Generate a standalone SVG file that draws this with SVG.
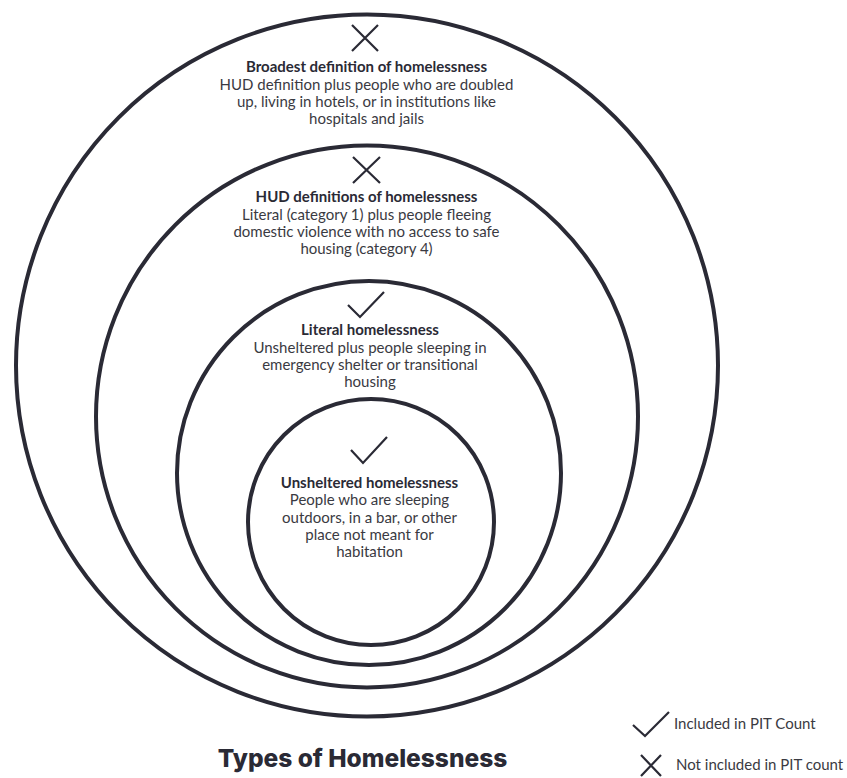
<svg xmlns="http://www.w3.org/2000/svg" width="847" height="778" viewBox="0 0 847 778">
<style>
.ring{fill:none;stroke:#2a2a35;stroke-width:4}
.ico{fill:none;stroke:#2a2a35;stroke-width:2.2;stroke-linecap:butt;stroke-linejoin:miter}
.h{font-family:Lato,"Liberation Sans",sans-serif;font-weight:700;font-size:15px;fill:#2a2a35;text-anchor:middle}
.b{font-family:Lato,"Liberation Sans",sans-serif;font-size:15px;fill:#3a3a42;text-anchor:middle}
.lg{font-family:Lato,"Liberation Sans",sans-serif;font-size:15px;fill:#3a3a42}
.t{font-family:Inter,"Liberation Sans",sans-serif;font-weight:800;font-size:24.5px;fill:#2a2a35;text-anchor:middle}
</style>
<rect width="847" height="778" fill="#ffffff"/>
<g id="broadest">
<circle class="ring" cx="367" cy="365.5" r="351"/>
<path class="ico" d="M352 25 L378 51 M378 25 L352 51"/>
<text class="h" x="366.5" y="72">Broadest definition of homelessness</text>
<text class="b" x="366.5" y="90">HUD definition plus people who are doubled</text>
<text class="b" x="366.5" y="107">up, living in hotels, or in institutions like</text>
<text class="b" x="366.5" y="124">hospitals and jails</text>
</g>
<g id="hud">
<circle class="ring" cx="367" cy="416.5" r="271"/>
<path class="ico" d="M353 157 L380 183 M380 157 L353 183"/>
<text class="h" x="366.5" y="202">HUD definitions of homelessness</text>
<text class="b" x="366.5" y="219.5">Literal (category 1) plus people fleeing</text>
<text class="b" x="366.5" y="236.5">domestic violence with no access to safe</text>
<text class="b" x="366.5" y="253.5">housing (category 4)</text>
</g>
<g id="literal">
<circle class="ring" cx="369" cy="473" r="192"/>
<path class="ico" d="M348 305 L360 317 L384 292"/>
<text class="h" x="370" y="335">Literal homelessness</text>
<text class="b" x="370" y="352.5">Unsheltered plus people sleeping in</text>
<text class="b" x="370" y="369.5">emergency shelter or transitional</text>
<text class="b" x="370" y="387">housing</text>
</g>
<g id="unsheltered">
<circle class="ring" cx="371" cy="522" r="123"/>
<path class="ico" d="M351 450 L363 463 L387 437"/>
<text class="h" x="369.5" y="488">Unsheltered homelessness</text>
<text class="b" x="369.5" y="505">People who are sleeping</text>
<text class="b" x="369.5" y="522.5">outdoors, in a bar, or other</text>
<text class="b" x="369.5" y="540">place not meant for</text>
<text class="b" x="369.5" y="557">habitation</text>
</g>
<g id="title">
<text class="t" x="362.5" y="767">Types of Homelessness</text>
</g>
<g id="legend">
<path class="ico" d="M633 725 L645 736 L669 712"/>
<text class="lg" x="674" y="729">Included in PIT Count</text>
<path class="ico" d="M641 755 L661 776 M661 755 L641 776"/>
<text class="lg" x="676" y="770">Not included in PIT count</text>
</g>
<g id="connectors"></g>
</svg>
